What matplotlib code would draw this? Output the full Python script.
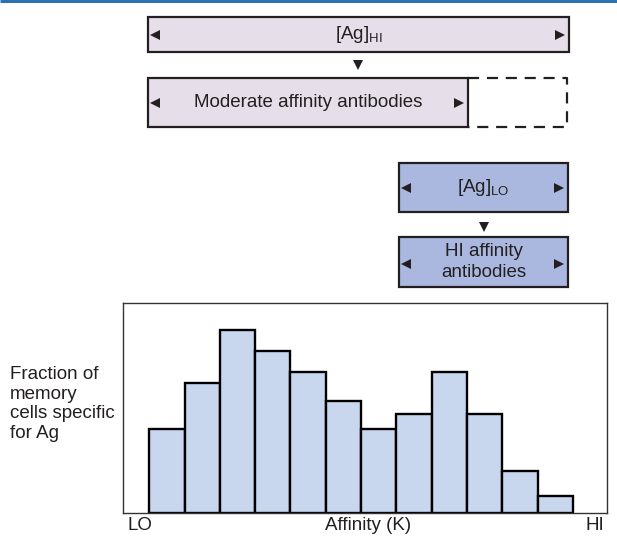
import numpy as np
import matplotlib.pyplot as plt
from matplotlib.patches import Rectangle

plt.rcParams['font.family'] = ['Liberation Sans', 'DejaVu Sans']
plt.rcParams['mathtext.default'] = 'regular'

# histogram data: relative fraction of memory cells per affinity bin
bin_index = np.arange(12)
fraction = [40, 62, 87, 77, 67, 53, 40, 47, 67, 47, 20, 8]
axis_labels = ['LO', 'Affinity (K)', 'HI']
ylabel_text = 'Fraction of\nmemory\ncells specific\nfor Ag'

W, H = 617, 538
ink = '#231f20'
fs = 13.5
fig = plt.figure(figsize=(W / 100, H / 100), dpi=100)

# overlay in pixel coordinates for the schematic boxes
ov = fig.add_axes([0, 0, 1, 1])
ov.set_xlim(0, W)
ov.set_ylim(H, 0)
ov.axis('off')

# top rule
ov.plot([0, W], [1, 1], color='#2b73b0', lw=2.2, solid_capstyle='butt')


def box(x0, x1, y0, y1, fc, text, ly=None):
    ov.add_patch(Rectangle((x0, y0), x1 - x0, y1 - y0, facecolor=fc,
                           edgecolor=ink, lw=1.6))
    ym = (y0 + y1) / 2 if ly is None else ly
    ov.plot([x0 + 7], [ym], marker='<', color=ink, ms=6.5, mew=0)
    ov.plot([x1 - 9], [ym], marker='>', color=ink, ms=6.5, mew=0)
    ov.text((x0 + x1) / 2, (y0 + y1) / 2, text, ha='center', va='center',
            fontsize=fs, color=ink, linespacing=1.25)


lav = '#e6dfea'
blu = '#aab8e0'
box(148, 569, 17, 52, lav, r'[Ag]$_{HI}$')
ov.plot([358], [65], marker='v', color=ink, ms=6.5, mew=0)
box(148, 468, 78, 127, lav, 'Moderate affinity antibodies')
ov.plot([468, 567, 567, 468], [78, 78, 127, 127], color=ink, lw=1.6,
        ls=(0, (5, 3.5)))

box(399, 568, 163, 212, blu, r'[Ag]$_{LO}$')
ov.plot([484], [227], marker='v', color=ink, ms=6.5, mew=0)
box(399, 568, 237, 287, blu, 'HI affinity\nantibodies', ly=264)

# histogram
ax = fig.add_axes([123 / W, 1 - 512.7 / H, (606.7 - 123) / W, (512.7 - 302.7) / H])
ax.bar(bin_index, fraction, width=1, align='edge', color='#c8d6ee',
       edgecolor='black', linewidth=1.7, zorder=2)
ax.set_xlim(-0.745, 12.96)
ax.set_ylim(0, 100)
ax.set_xticks([])
ax.set_yticks([])
for s in ax.spines.values():
    s.set_linewidth(1.0)
    s.set_color('#333333')

ov.text(140, 526, axis_labels[0], ha='center', va='center', fontsize=fs, color=ink)
ov.text(368, 526, axis_labels[1], ha='center', va='center', fontsize=fs, color=ink)
ov.text(595, 526, axis_labels[2], ha='center', va='center', fontsize=fs, color=ink)
ov.text(10, 404, ylabel_text, ha='left', va='center', fontsize=fs, color=ink,
        linespacing=1.2)

fig.savefig('out.png', dpi=100)
